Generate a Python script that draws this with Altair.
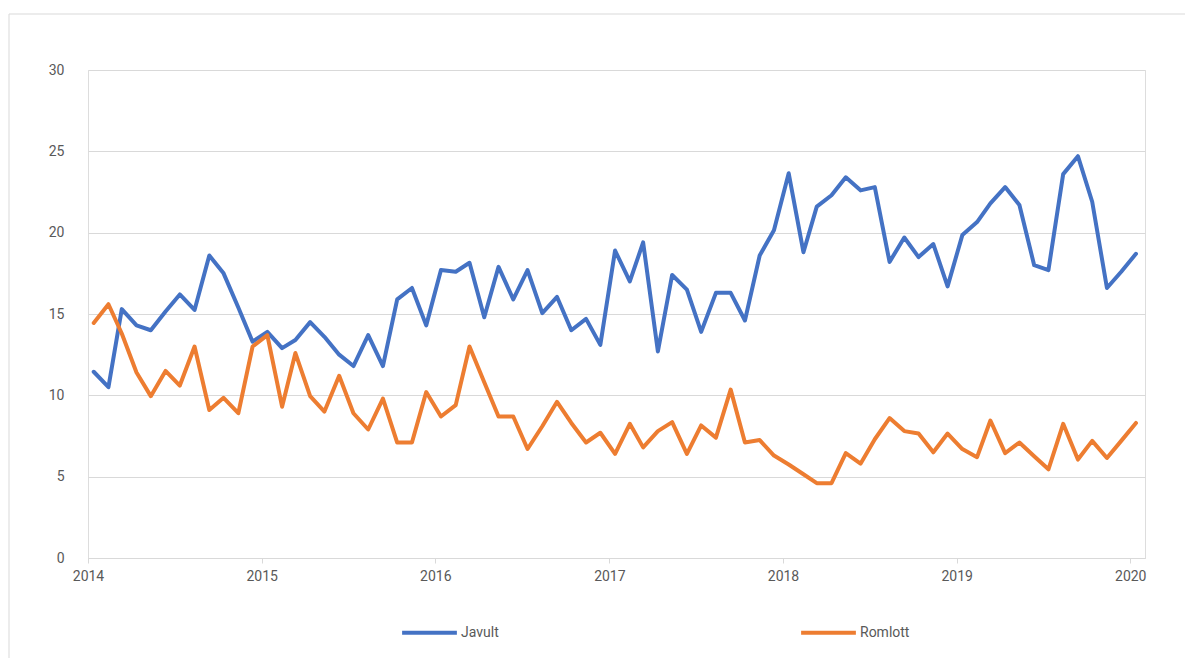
import altair as alt
import pandas as pd

# ---- data ----
series_names = ["Javult", "Romlott"]

javult = [11.45, 10.5, 15.3, 14.3, 14.0, 15.15, 16.2, 15.25, 18.6, 17.5, 15.4, 13.3,
          13.9, 12.9, 13.4, 14.5, 13.6, 12.5, 11.8, 13.7, 11.8, 15.9, 16.6, 14.3,
          17.7, 17.6, 18.15, 14.8, 17.9, 15.9, 17.7, 15.05, 16.05, 14.0, 14.7, 13.1,
          18.9, 17.0, 19.4, 12.7, 17.4, 16.5, 13.9, 16.3, 16.3, 14.6, 18.6, 20.15,
          23.65, 18.8, 21.6, 22.3, 23.4, 22.6, 22.8, 18.2, 19.7, 18.5, 19.3, 16.7,
          19.85, 20.65, 21.8, 22.8, 21.7, 18.0, 17.7, 23.6, 24.7, 21.9, 16.6, 17.6,
          18.7]

romlott = [14.45, 15.6, 13.8, 11.4, 9.95, 11.5, 10.6, 13.0, 9.1, 9.85, 8.9, 13.0,
           13.7, 9.3, 12.6, 9.95, 9.0, 11.2, 8.9, 7.9, 9.8, 7.1, 7.1, 10.2,
           8.7, 9.4, 13.0, 10.8, 8.7, 8.7, 6.7, 8.1, 9.6, 8.3, 7.1, 7.7,
           6.4, 8.25, 6.8, 7.8, 8.35, 6.4, 8.15, 7.4, 10.35, 7.1, 7.25, 6.3,
           5.75, 5.15, 4.6, 4.6, 6.45, 5.8, 7.3, 8.6, 7.8, 7.65, 6.5, 7.65,
           6.7, 6.2, 8.45, 6.45, 7.1, 6.25, 5.45, 8.25, 6.05, 7.2, 6.15, 7.2,
           8.3]

dates = pd.date_range("2014-01-01", periods=len(javult), freq="MS") + pd.Timedelta(days=12)

year_ticks = [2014, 2015, 2016, 2017, 2018, 2019, 2020]
y_ticks = [0, 5, 10, 15, 20, 25, 30]
colors = ["#4472C4", "#ED7D31"]

df = pd.concat([
    pd.DataFrame({"date": dates, "value": javult, "series": series_names[0]}),
    pd.DataFrame({"date": dates, "value": romlott, "series": series_names[1]}),
])

tick_dates = [alt.DateTime(year=y, month=1, date=1) for y in year_ticks]

FONT = "Liberation Sans Narrow, Roboto, sans-serif"
TXT = "#595959"

W, H = 1057, 488

border = alt.Chart(pd.DataFrame({"k": [0]})).mark_rect(
    fill=None, stroke="#D9D9D9", strokeWidth=1, clip=False
).encode(
    x=alt.value(-79), x2=alt.value(1102), y=alt.value(-56), y2=alt.value(600)
)

lines = alt.Chart(df).mark_line(strokeWidth=4, strokeJoin="round", strokeCap="round").encode(
    x=alt.X("date:T",
            scale=alt.Scale(domain=[alt.DateTime(year=2014, month=1, date=1),
                                    alt.DateTime(year=2020, month=2, date=1)]),
            axis=alt.Axis(values=tick_dates, format="%Y", title=None, grid=False,
                          domainColor="#D9D9D9", tickColor="#D9D9D9", tickSize=5,
                          labelColor=TXT, labelFontSize=14, labelPadding=6,
                          labelFlush=False, labelFont=FONT)),
    y=alt.Y("value:Q",
            scale=alt.Scale(domain=[0, 30], nice=False),
            axis=alt.Axis(values=y_ticks, title=None, domain=False, ticks=False,
                          gridColor="#D9D9D9", labelColor=TXT, labelFontSize=14,
                          labelPadding=24, labelFont=FONT)),
    color=alt.Color("series:N",
                    scale=alt.Scale(domain=series_names, range=colors),
                    legend=alt.Legend(title=None, orient="none", direction="horizontal",
                                      legendX=312, legendY=533,
                                      symbolType="stroke", symbolSize=3000,
                                      symbolStrokeWidth=4, labelFont=FONT,
                                      labelFontSize=14, labelColor=TXT,
                                      labelOffset=2, columnPadding=294)),
)

chart = alt.layer(border, lines).properties(
    width=W, height=H,
    autosize=alt.AutoSizeParams(type="none"),
    padding={"left": 80, "top": 62, "right": 40, "bottom": 100},
).configure_view(stroke=None).configure(background="white")

chart.save("out.html", embed_options={"renderer": "svg", "actions": False})
